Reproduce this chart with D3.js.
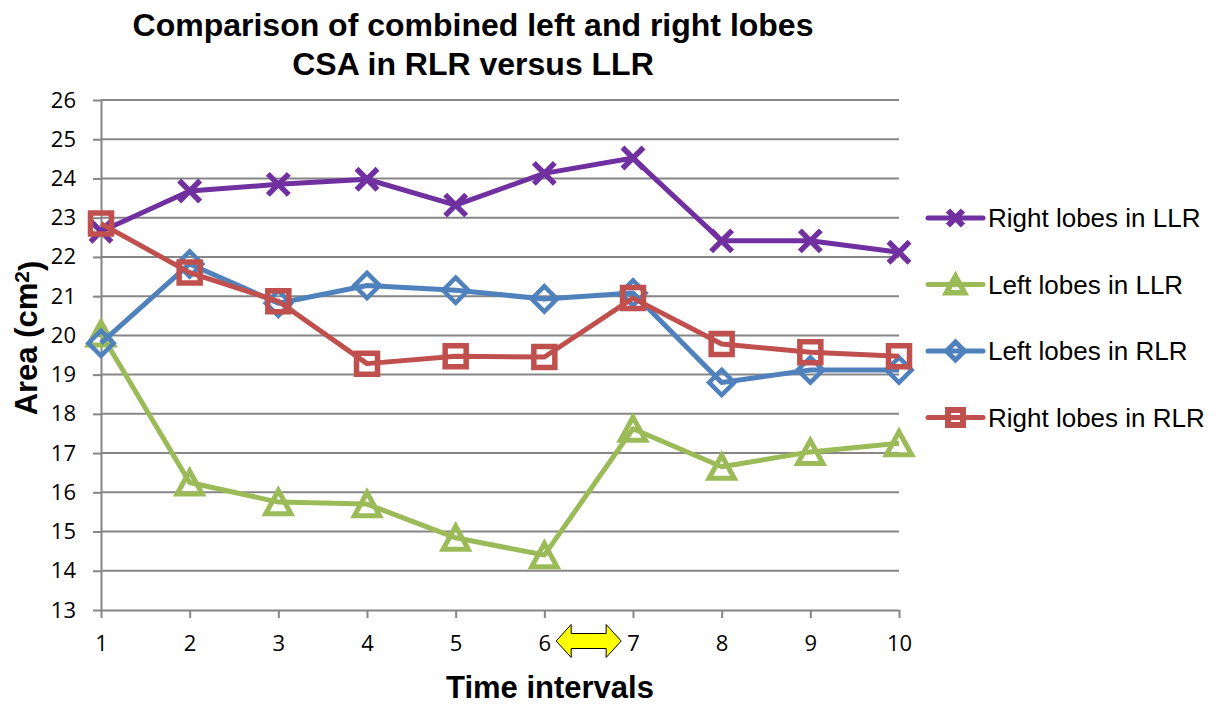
<!DOCTYPE html>
<html>
<head>
<meta charset="utf-8">
<script src="https://cdn.jsdelivr.net/npm/d3@7"></script>
<style>
  body { margin: 0; background: #fff; }
  svg { display: block; }
</style>
</head>
<body>
<div id="chart"></div>
<script>
// --- Data ---
const intervals = [1, 2, 3, 4, 5, 6, 7, 8, 9, 10];
const yTicks = [13, 14, 15, 16, 17, 18, 19, 20, 21, 22, 23, 24, 25, 26];

const rightLobesLLR = [22.65, 23.68, 23.85, 23.98, 23.32, 24.13, 24.52, 22.41, 22.41, 22.12];
const leftLobesLLR  = [20.05, 16.25, 15.75, 15.70, 14.84, 14.40, 17.62, 16.65, 17.03, 17.25];
const leftLobesRLR  = [19.80, 21.82, 20.82, 21.27, 21.15, 20.93, 21.08, 18.80, 19.12, 19.12];
const rightLobesRLR = [22.85, 21.60, 20.87, 19.28, 19.47, 19.45, 20.95, 19.78, 19.57, 19.47];

const seriesNames = ["Right lobes in LLR", "Left lobes in LLR", "Left lobes in RLR", "Right lobes in RLR"];
const seriesColors = ["#7030A0", "#9BBB59", "#4F81BD", "#C0504D"];
const seriesMarkers = ["cross", "triangle", "diamond", "square"];
const seriesValues = [rightLobesLLR, leftLobesLLR, leftLobesRLR, rightLobesRLR];

// --- SVG ---
const width = 1219, height = 704;
const svg = d3.select("#chart").append("svg")
    .attr("width", width)
    .attr("height", height);

const x = d3.scaleLinear().domain([1, 10]).range([101, 899]);
const y = d3.scaleLinear().domain([13, 26]).range([610, 100]);

const axisColor = "#868686";

// --- Gridlines ---
svg.append("g")
    .selectAll("line")
    .data(yTicks.slice(1))
    .enter()
    .append("line")
    .attr("x1", x(1))
    .attr("x2", x(10))
    .attr("y1", d => y(d))
    .attr("y2", d => y(d))
    .attr("stroke", axisColor)
    .attr("stroke-width", 2);

// --- Axes ---
const yAxis = svg.append("g")
    .attr("transform", `translate(${x(1)},0)`)
    .call(d3.axisLeft(y).tickValues(yTicks).tickSize(8).tickSizeOuter(0).tickPadding(17));

const xAxis = svg.append("g")
    .attr("transform", `translate(0,${y(13)})`)
    .call(d3.axisBottom(x).tickValues(intervals).tickSize(8).tickSizeOuter(0).tickPadding(17));

[yAxis, xAxis].forEach(ax => {
    ax.select(".domain").attr("stroke", axisColor).attr("stroke-width", 2);
    ax.selectAll(".tick line").attr("stroke", axisColor).attr("stroke-width", 2);
    ax.selectAll(".tick text")
        .attr("fill", "#000")
        .style("font-family", "'Open Sans', sans-serif")
        .style("font-size", "22px");
});

// --- Marker shapes ---
function markerPath(type, s) {
    switch (type) {
        case "cross":
            return `M${-s},${-s}L${s},${s}M${-s},${s}L${s},${-s}`;
        case "triangle":
            return `M0,${-s * 1.1}L${s * 1.2},${s * 1.1}L${-s * 1.2},${s * 1.1}Z`;
        case "diamond":
            return `M0,${-s * 1.2}L${s * 1.2},0L0,${s * 1.2}L${-s * 1.2},0Z`;
        default:
            return `M${-s},${-s}L${s},${-s}L${s},${s}L${-s},${s}Z`;
    }
}
const markerStroke = { cross: 5.5, triangle: 5, diamond: 4.5, square: 5.5 };

// --- Lines and markers ---
const line = d3.line()
    .x((d, i) => x(intervals[i]))
    .y(d => y(d));

seriesValues.forEach((values, k) => {
    const g = svg.append("g");
    g.append("path")
        .datum(values)
        .attr("d", line)
        .attr("fill", "none")
        .attr("stroke", seriesColors[k])
        .attr("stroke-width", 5)
        .attr("stroke-linejoin", "round");

    g.selectAll("path.marker")
        .data(values)
        .enter()
        .append("path")
        .attr("class", "marker")
        .attr("transform", (d, i) => `translate(${x(intervals[i])},${y(d)})`)
        .attr("d", markerPath(seriesMarkers[k], 10.5))
        .attr("fill", "none")
        .attr("stroke", seriesColors[k])
        .attr("stroke-width", markerStroke[seriesMarkers[k]]);
});

// --- Yellow double arrow between 6 and 7 ---
const ax0 = x(6.5), ay0 = 641;
const halfLen = 32.5, headLen = 15, headH = 16.5, shaftH = 7.5;
svg.append("path")
    .attr("d", `M${ax0 - halfLen},${ay0}` +
        `L${ax0 - halfLen + headLen},${ay0 - headH}` +
        `L${ax0 - halfLen + headLen},${ay0 - shaftH}` +
        `L${ax0 + halfLen - headLen},${ay0 - shaftH}` +
        `L${ax0 + halfLen - headLen},${ay0 - headH}` +
        `L${ax0 + halfLen},${ay0}` +
        `L${ax0 + halfLen - headLen},${ay0 + headH}` +
        `L${ax0 + halfLen - headLen},${ay0 + shaftH}` +
        `L${ax0 - halfLen + headLen},${ay0 + shaftH}` +
        `L${ax0 - halfLen + headLen},${ay0 + headH}Z`)
    .attr("fill", "#FFFF00")
    .attr("stroke", "#000")
    .attr("stroke-width", 1);

// --- Legend ---
const legend = svg.append("g")
    .selectAll("g")
    .data(seriesNames)
    .enter()
    .append("g")
    .attr("transform", (d, i) => `translate(928,${218 + i * 66.5})`);

legend.append("line")
    .attr("x1", 0).attr("x2", 55)
    .attr("stroke", (d, i) => seriesColors[i])
    .attr("stroke-width", 5)
    .attr("stroke-linecap", "round");

legend.append("path")
    .attr("transform", "translate(27.5,0)")
    .attr("d", (d, i) => markerPath(seriesMarkers[i], 7.5))
    .attr("fill", "none")
    .attr("stroke", (d, i) => seriesColors[i])
    .attr("stroke-width", (d, i) => markerStroke[seriesMarkers[i]] + 0.5);

legend.append("text")
    .attr("x", 60)
    .attr("dy", "0.36em")
    .style("font-family", "'Liberation Sans', Arial, sans-serif")
    .style("font-size", "26px")
    .text(d => d);

// --- Titles ---
const titleFont = "'Liberation Sans', Arial, sans-serif";
svg.append("text")
    .attr("x", 473).attr("y", 36)
    .attr("text-anchor", "middle")
    .style("font-family", titleFont).style("font-size", "32px").style("font-weight", "bold")
    .text("Comparison of combined left and right lobes");
svg.append("text")
    .attr("x", 473).attr("y", 75)
    .attr("text-anchor", "middle")
    .style("font-family", titleFont).style("font-size", "32px").style("font-weight", "bold")
    .text("CSA in RLR versus LLR");

svg.append("text")
    .attr("x", 550).attr("y", 698)
    .attr("text-anchor", "middle")
    .style("font-family", titleFont).style("font-size", "31px").style("font-weight", "bold")
    .text("Time intervals");

const yTitle = svg.append("text")
    .attr("transform", "translate(37,338) rotate(-90)")
    .attr("text-anchor", "middle")
    .style("font-family", titleFont).style("font-size", "31px").style("font-weight", "bold");
yTitle.append("tspan").text("Area (cm");
yTitle.append("tspan").attr("dy", "-0.4em").style("font-size", "21px").text("2");
yTitle.append("tspan").attr("dy", "0.4em").text(")");
</script>
</body>
</html>
